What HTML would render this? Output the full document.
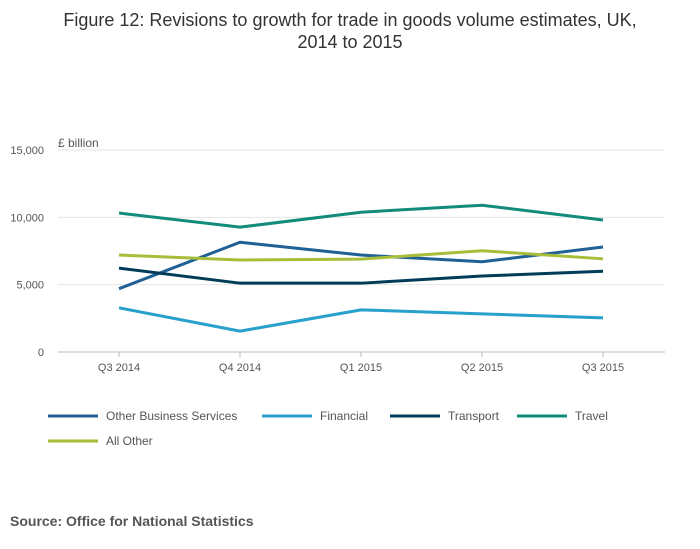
<!DOCTYPE html>
<html><head><meta charset="utf-8"><style>
body{margin:0;background:#fff;font-family:"Liberation Sans",sans-serif;}
#c{position:relative;width:700px;height:549px;overflow:hidden}
</style></head><body>
<div id="c">
<svg id="s" width="700" height="549" xmlns="http://www.w3.org/2000/svg">
<text x="350" y="26" text-anchor="middle" font-size="18" fill="#333" font-family="Liberation Sans, sans-serif">Figure 12: Revisions to growth for trade in goods volume estimates, UK,</text>
<text x="350" y="48" text-anchor="middle" font-size="18" fill="#333" font-family="Liberation Sans, sans-serif">2014 to 2015</text>
<text x="58" y="147" font-size="12" fill="#555">£ billion</text>
<g id="grid"></g><g id="lines"></g><g id="legend"></g>
<text x="10" y="526" font-size="14" font-weight="bold" fill="#555">Source: Office for National Statistics</text>
</svg>
</div>
<script>
const categories=["Q3 2014","Q4 2014","Q1 2015","Q2 2015","Q3 2015"];
const yTicks=[0,5000,10000,15000];
const seriesNames=["Other Business Services","Financial","Transport","Travel","All Other"];
const seriesColors=["#206095","#27a0cc","#003c57","#118c7b","#a8bd3a"];
const otherBusiness=[4700,8150,7200,6700,7800];
const financial=[3280,1550,3130,2830,2530];
const transport=[6230,5110,5110,5640,6000];
const travel=[10320,9270,10380,10900,9800];
const allOther=[7200,6830,6900,7520,6920];
const seriesValues=[otherBusiness,financial,transport,travel,allOther];
const NS="http://www.w3.org/2000/svg";
const x=i=>119+i*121, y=v=>352-v/15000*202;
function mk(t,a,p){const e=document.createElementNS(NS,t);for(const k in a)e.setAttribute(k,a[k]);p.appendChild(e);return e;}
const g=document.getElementById('grid');
yTicks.forEach(v=>{
 const l=mk('line',{x1:58,x2:665,y1:y(v),y2:y(v),stroke:v===0?'#bbb':'#e6e6e6','stroke-width':1},g);
 
 
 const t=mk('text',{x:44,y:y(v)+4,'text-anchor':'end','font-size':11,fill:'#555'},g);
 t.textContent=v.toLocaleString('en-GB');
 
 
});
categories.forEach((c,i)=>{
 const tk=mk('line',{x1:x(i),x2:x(i),y1:352,y2:357,stroke:'#bbb'},g);
 
 
 const t=mk('text',{x:x(i),y:371,'text-anchor':'middle','font-size':11,fill:'#555'},g);
 t.textContent=c;
 
 
});
const lg=document.getElementById('lines');
seriesValues.forEach((vals,si)=>{
 const p=mk('polyline',{points:vals.map((v,i)=>x(i)+','+y(v)).join(' '),fill:'none',stroke:seriesColors[si],'stroke-width':3,'stroke-linejoin':'round'},lg);
 
 
});
const leg=document.getElementById('legend');
const lx=[48,262,390,517,48], ly=[416,416,416,416,441];
seriesNames.forEach((n,i)=>{
 const grp=mk('g',{},leg);
 
 
 mk('line',{x1:lx[i],x2:lx[i]+50,y1:ly[i],y2:ly[i],stroke:seriesColors[i],'stroke-width':3},grp);
 const t=mk('text',{x:lx[i]+58,y:ly[i]+4,'font-size':12,fill:'#555'},grp);
 t.textContent=n;
});
</script>
</body></html>
